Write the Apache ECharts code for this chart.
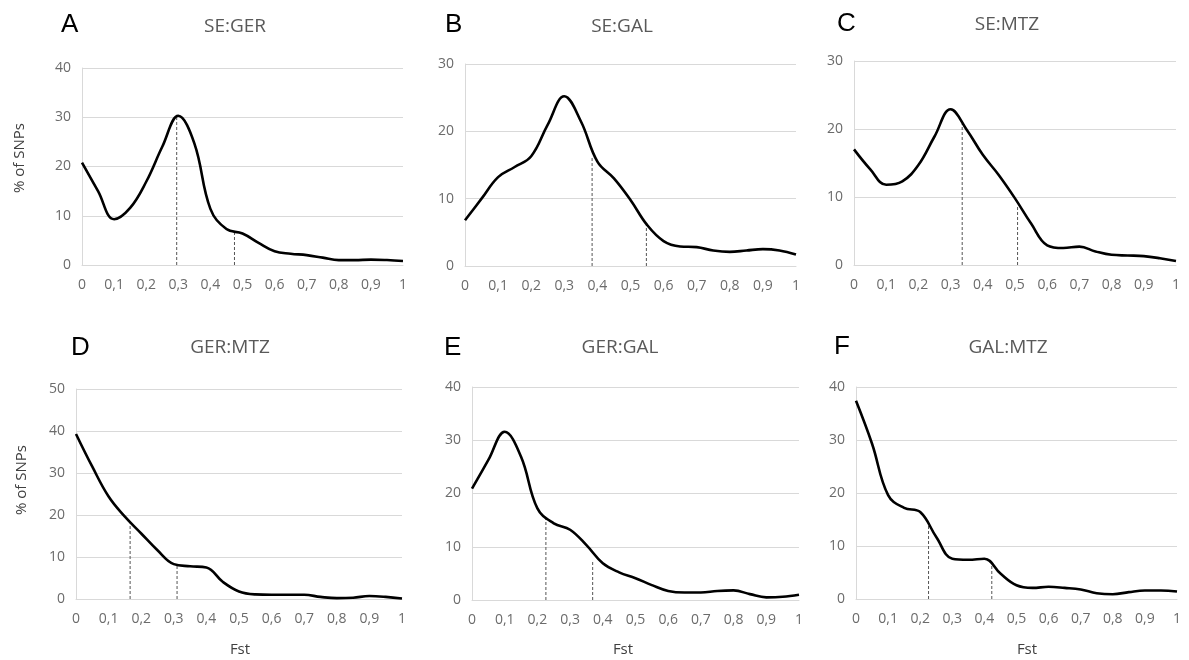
<!DOCTYPE html>
<html>
<head>
<meta charset="utf-8">
<script src="https://cdn.jsdelivr.net/npm/echarts@6/dist/echarts.min.js"></script>
<style>
html,body{margin:0;padding:0;background:#fff;}
#chart{width:1189px;height:660px;}
</style>
</head>
<body>
<div id="chart"></div>
<script>
// Fst bins shared by all panels
const fst = [0,0.05,0.1,0.15,0.2,0.25,0.3,0.35,0.4,0.45,0.5,0.55,0.6,0.65,0.7,0.75,0.8,0.85,0.9,0.95,1];
const xTicks = ['0','0,1','0,2','0,3','0,4','0,5','0,6','0,7','0,8','0,9','1'];

const letters = ['A','B','C','D','E','F'];
const titles = ['SE:GER','SE:GAL','SE:MTZ','GER:MTZ','GER:GAL','GAL:MTZ'];
const yMax = [40,30,30,50,40,40];

// % of SNPs per panel
const pctA = [20.8,15.0,9.3,11.6,16.9,24.0,30.3,24.7,11.4,7.3,6.4,4.5,2.8,2.3,2.0,1.5,1.0,1.0,1.1,1.0,0.8];
const pctB = [6.8,10.0,13.2,14.7,16.3,21.0,25.2,21.5,15.5,13.0,9.8,6.1,3.7,2.9,2.8,2.3,2.1,2.3,2.5,2.3,1.7];
const pctC = [17.0,14.1,11.8,12.3,14.7,18.9,22.9,19.9,16.2,13.2,9.8,6.1,2.9,2.5,2.7,2.0,1.5,1.4,1.3,1.0,0.6];
const pctD = [39.3,31.5,24.4,19.6,15.6,11.6,8.3,7.8,7.5,4.1,1.8,1.1,1.0,1.0,1.0,0.5,0.2,0.3,0.7,0.5,0.1];
const pctE = [20.9,26.3,31.6,26.9,17.2,14.4,13.2,10.3,6.9,5.2,4.1,2.8,1.7,1.4,1.4,1.7,1.8,1.1,0.5,0.6,1.0];
const pctF = [37.4,29.3,19.6,17.2,16.4,11.7,7.6,7.4,7.6,4.8,2.6,2.1,2.3,2.1,1.8,1.1,0.9,1.3,1.6,1.6,1.4];

// dashed marker lines: Fst position and curve height
const markFstA = [0.295,0.475], markPctA = [30.3,6.8];
const markFstB = [0.384,0.548], markPctB = [16.3,6.3];
const markFstC = [0.336,0.508], markPctC = [20.8,8.8];
const markFstD = [0.166,0.31],  markPctD = [18.0,8.0];
const markFstE = [0.226,0.369], markPctE = [15.3,7.5];
const markFstF = [0.226,0.423], markPctF = [14.2,6.9];

const pcts = [pctA,pctB,pctC,pctD,pctE,pctF];
const markFst = [markFstA,markFstB,markFstC,markFstD,markFstE,markFstF];
const markPct = [markPctA,markPctB,markPctC,markPctD,markPctE,markPctF];

// layout (pixels)
const grids = [
  {left:82, top:68, width:321, height:197},
  {left:465, top:64, width:331, height:202},
  {left:854, top:61, width:322, height:204},
  {left:76, top:389, width:326, height:210},
  {left:472, top:387, width:327, height:213},
  {left:856, top:387, width:321, height:212}
];
const letterPos = [[61,25],[445,25],[837,24],[71,348],[444,348],[834,347]];
const titlePos = [[235,27],[622,27],[1007,25],[230,348],[620,348],[1008,348]];

const font = '"Open Sans", "Liberation Sans", sans-serif';
const gridColor = '#d9d9d9';
const labelColor = '#6b6b6b';

const xAxes = [], yAxes = [], series = [], graphics = [];
grids.forEach((g, i) => {
  xAxes.push({
    type:'value', gridIndex:i, min:0, max:1, interval:0.1,
    axisLine:{show:true, lineStyle:{color:gridColor, width:1}},
    axisTick:{show:false}, splitLine:{show:false},
    axisLabel:{color:labelColor, fontSize:14, fontFamily:font, margin:13,
      formatter:v => xTicks[Math.round(v*10)]}
  });
  yAxes.push({
    type:'value', gridIndex:i, min:0, max:yMax[i], interval:10,
    axisLine:{show:true, lineStyle:{color:gridColor, width:1}},
    axisTick:{show:false},
    splitLine:{show:true, lineStyle:{color:gridColor, width:1}},
    axisLabel:{color:labelColor, fontSize:14, fontFamily:font, margin:11}
  });
  markFst[i].forEach((mx, k) => {
    series.push({
      type:'line', xAxisIndex:i, yAxisIndex:i, showSymbol:false, silent:true,
      data:[[mx,0],[mx,markPct[i][k]]],
      lineStyle:{color:'#555', width:1, type:[3,2]}, z:1
    });
  });
  series.push({
    type:'line', xAxisIndex:i, yAxisIndex:i, showSymbol:false, smooth:0.4,
    data: fst.map((f, j) => [f, pcts[i][j]]),
    lineStyle:{color:'#000', width:2.6}, z:3
  });
  graphics.push({type:'text', x:letterPos[i][0], y:letterPos[i][1],
    style:{text:letters[i], fill:'#000', fontSize:26, fontFamily:'"Liberation Sans", Arial, sans-serif', align:'left', verticalAlign:'middle'}});
  graphics.push({type:'text', x:titlePos[i][0], y:titlePos[i][1],
    style:{text:titles[i], fill:'#595959', fontSize:19, fontFamily:font, align:'center', verticalAlign:'middle'}});
});

// axis titles
[[20,158],[22,480]].forEach(p => {
  graphics.push({type:'text', x:p[0], y:p[1], rotation:Math.PI/2,
    style:{text:'% of SNPs', fill:'#404040', fontSize:15, fontFamily:font, align:'center', verticalAlign:'middle'}});
});
[[240,650],[623,650],[1027,650]].forEach(p => {
  graphics.push({type:'text', x:p[0], y:p[1],
    style:{text:'Fst', fill:'#404040', fontSize:15, fontFamily:font, align:'center', verticalAlign:'middle'}});
});

const chart = echarts.init(document.getElementById('chart'), null, {renderer:'canvas'});
chart.setOption({
  animation:false,
  backgroundColor:'#fff',
  grid: grids,
  xAxis: xAxes,
  yAxis: yAxes,
  series: series,
  graphic: graphics
});
</script>
</body>
</html>
